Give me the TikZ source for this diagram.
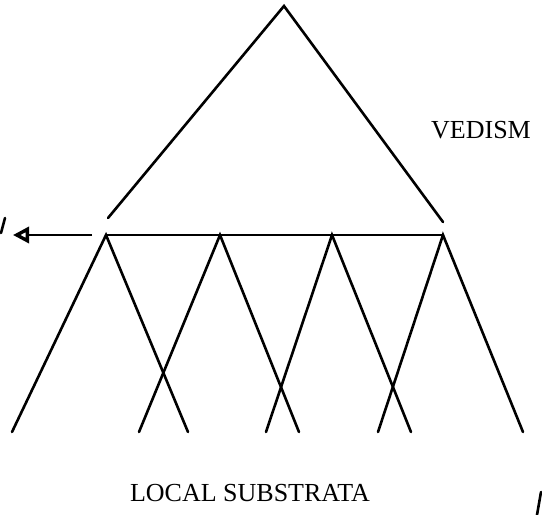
\documentclass[tikz,border=0pt]{standalone}
\usepackage{fontspec}
\setmainfont{Liberation Serif}
\usetikzlibrary{arrows.meta}
\tikzset{
  stroke/.style={line width=1.3pt, line cap=round},
  caption/.style={font=\fontsize{13}{15}\selectfont, inner sep=0pt},
}
\begin{document}
\begin{tikzpicture}[x=0.5pt, y=-0.5pt]
  \useasboundingbox (0,0) rectangle (542,515);
  % upper triangle
  \coordinate (apex) at (284,6);
  \coordinate (tl) at (108,218);
  \coordinate (tr) at (443,222);
  \draw[stroke] (tl) -- (apex) -- (tr);
  % bar with four peaks
  \foreach \n/\x/\l/\r in {1/106/12/188, 2/220/139/299, 3/332/266/411, 4/443/378/523} {
    \coordinate (p\n) at (\x,235);
    \coordinate (l\n) at (\l,432);
    \coordinate (r\n) at (\r,432);
    \draw[stroke] (l\n) -- (p\n) -- (r\n);
  }
  \draw[stroke] (p1) -- (p4);
  % arrow off to the left
  \coordinate (tail) at (92,235);
  \coordinate (tip) at (13,235);
  \draw[line width=1pt, -{Triangle[open, length=8pt, width=8pt, line width=1.7pt]}] (tail) -- (tip);
  % stray marks
  \coordinate (sa) at (5,218);
  \coordinate (sb) at (1,233);
  \coordinate (sc) at (541,492);
  \coordinate (sd) at (537,515);
  \draw[stroke] (sa) -- (sb);
  \draw[stroke] (sc) -- (sd);
  \node[caption] (vedism) at (481,130.5) {VEDISM};
  \node[caption] (substrata) at (250,493) {LOCAL SUBSTRATA};
\end{tikzpicture}
\end{document}
